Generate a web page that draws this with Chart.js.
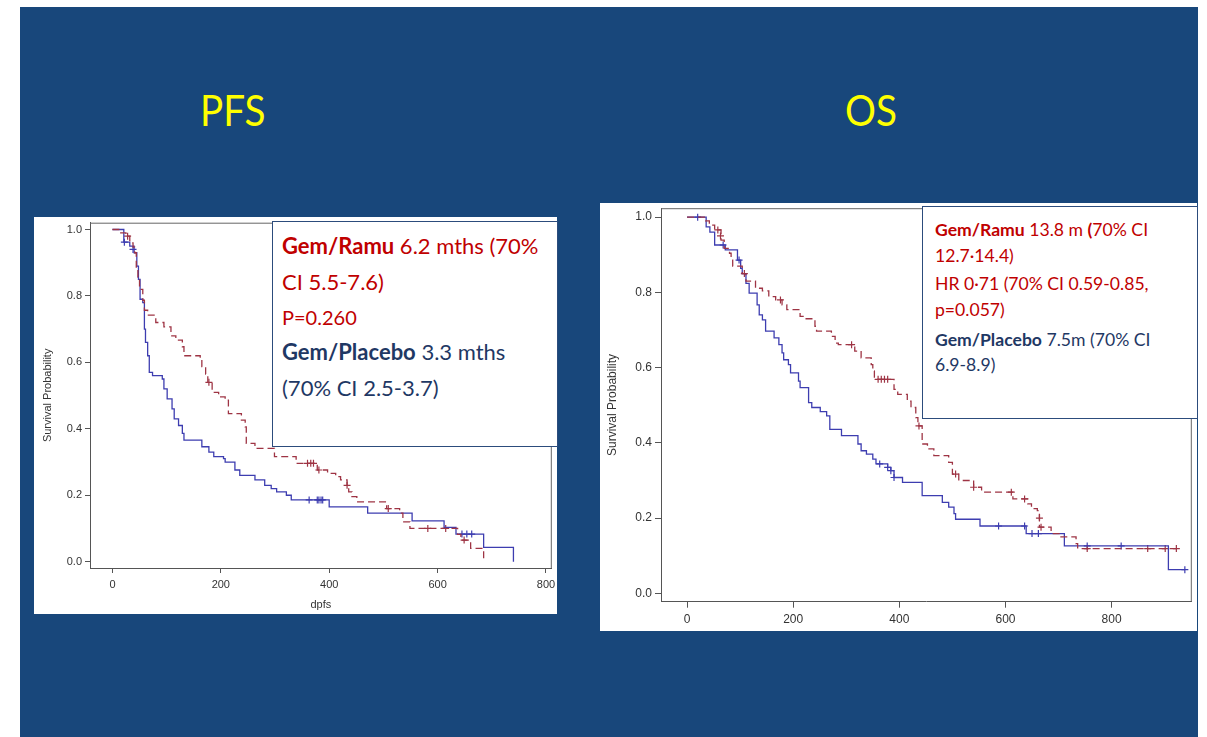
<!DOCTYPE html>
<html>
<head>
<meta charset="utf-8">
<script src="https://cdn.jsdelivr.net/npm/chart.js@4.4.1/dist/chart.umd.min.js"></script>
<style>
  html, body { margin: 0; padding: 0; background: #fff; }
  body { width: 1207px; height: 737px; position: relative; overflow: hidden; font-family: Lato, sans-serif; }
  #slide { position: absolute; left: 20px; top: 7px; width: 1178px; height: 730px; background: #18477b; }
  .title { position: absolute; color: #ffff00; font-size: 42px; line-height: 1.2; white-space: nowrap; transform: scaleX(0.92); transform-origin: left top; }
  .panel { position: absolute; background: #fff; overflow: hidden; }
  .box { position: absolute; background: #fff; border: 1.5px solid #2c4c7c; box-sizing: border-box; }
  .ln { position: absolute; white-space: nowrap; line-height: 1.2; }
  .red { color: #c00000; }
  .navy { color: #1f3864; }
</style>
</head>
<body>
<div id="slide"></div>
<div class="title" style="left:200px; top:85px;">PFS</div>
<div class="title" style="left:845px; top:85px;">OS</div>

<div class="panel" style="left:34px; top:217px; width:523px; height:397px;">
  <canvas id="pfsChart" width="523" height="397"></canvas>
</div>
<div class="panel" style="left:600px; top:203px; width:597px; height:428px;">
  <canvas id="osChart" width="597" height="428"></canvas>
</div>

<!-- text boxes over the plots -->
<div class="box" style="left:272px; top:221px; width:286px; height:226px;"></div>
<div class="ln red" style="left:282px; top:233px; font-size:22px;"><b>Gem/Ramu</b> 6.2 mths (70%</div>
<div class="ln red" style="left:282px; top:269px; font-size:22px;">CI 5.5-7.6)</div>
<div class="ln red" style="left:282px; top:305px; font-size:20px;">P=0.260</div>
<div class="ln navy" style="left:282px; top:339px; font-size:22px;"><b>Gem/Placebo</b> 3.3 mths</div>
<div class="ln navy" style="left:282px; top:375px; font-size:22px;">(70% CI 2.5-3.7)</div>

<div class="box" style="left:922px; top:206px; width:276px; height:213px;"></div>
<div class="ln red" style="left:935px; top:219px; font-size:17.6px;"><b>Gem/Ramu</b> 13.8 m <b>(</b>70% CI</div>
<div class="ln red" style="left:935px; top:245px; font-size:17.6px;">12.7·14.4)</div>
<div class="ln red" style="left:935px; top:273px; font-size:17.6px;">HR 0·71 (70% CI 0.59-0.85,</div>
<div class="ln red" style="left:935px; top:299px; font-size:17.6px;">p=0.057)</div>
<div class="ln navy" style="left:935px; top:329px; font-size:17.6px;"><b>Gem/Placebo</b> 7.5m (70% CI</div>
<div class="ln navy" style="left:935px; top:354px; font-size:17.6px;">6.9-8.9)</div>

<script>
// PFS, Gem/Ramu (days, survival after each step)
const pfsRamuT = [0,13,25,32,38,41,44,47,50,56,59,65,80,95,108,117,129,132,162,165,172,176,184,196,208,214,238,245,247,263,299,339,378,397,412,421,433,436,442,451,506,530,536,549,637,643,661,685];
const pfsRamuS = [1,0.99,0.98,0.96,0.947,0.93,0.887,0.857,0.82,0.787,0.757,0.742,0.72,0.707,0.68,0.667,0.647,0.62,0.61,0.587,0.565,0.54,0.51,0.496,0.486,0.446,0.426,0.406,0.356,0.341,0.316,0.296,0.276,0.266,0.256,0.246,0.23,0.21,0.196,0.18,0.16,0.146,0.12,0.10,0.082,0.065,0.04,0];
const pfsRamuCensT = [28,178,360,366,371,381,433,509,582,615,649];
const pfsRamuCensS = [0.98,0.54,0.296,0.296,0.296,0.276,0.23,0.16,0.10,0.10,0.065];

// PFS, Gem/Placebo
const pfsPlacT = [0,21,32,40,45,48,51,56,59,61,65,68,74,92,95,101,110,114,122,129,132,165,178,187,205,208,226,235,263,281,293,303,321,330,400,471,553,612,634,685,740];
const pfsPlacS = [1,0.962,0.95,0.93,0.89,0.85,0.79,0.78,0.70,0.66,0.62,0.57,0.56,0.55,0.52,0.49,0.46,0.43,0.41,0.386,0.366,0.346,0.33,0.316,0.31,0.30,0.276,0.26,0.246,0.23,0.22,0.21,0.20,0.186,0.165,0.146,0.123,0.103,0.083,0.043,0];
const pfsPlacCensT = [22,38,363,378,381,385,388,645,654,663];
const pfsPlacCensS = [0.962,0.94,0.186,0.186,0.186,0.186,0.186,0.083,0.083,0.083];

// OS, Gem/Ramu
const osRamuT = [0,35,42,52,64,70,80,83,86,104,111,129,142,154,167,179,188,213,222,241,244,272,279,285,316,328,347,350,353,390,397,415,422,431,435,443,453,465,493,500,512,540,555,614,642,649,660,664,686,701,733,736,925];
const osRamuS = [1,0.99,0.979,0.966,0.939,0.917,0.904,0.886,0.87,0.85,0.83,0.811,0.804,0.789,0.78,0.767,0.754,0.736,0.73,0.71,0.697,0.683,0.665,0.661,0.644,0.626,0.608,0.591,0.569,0.542,0.529,0.511,0.494,0.467,0.445,0.397,0.384,0.366,0.348,0.317,0.30,0.282,0.269,0.251,0.238,0.225,0.22,0.176,0.159,0.15,0.132,0.119,0.119];
const osRamuCensT = [58,63,108,176,310,360,366,372,378,437,506,540,611,636,664,667,754,868,901,922];
const osRamuCensS = [0.966,0.95,0.85,0.78,0.661,0.569,0.569,0.569,0.569,0.445,0.317,0.282,0.269,0.251,0.2,0.176,0.119,0.119,0.119,0.119];

// OS, Gem/Placebo
const osPlacT = [0,36,43,52,72,95,101,104,111,117,132,136,142,148,164,173,179,182,191,195,210,213,229,235,251,263,269,291,322,328,338,350,356,378,384,390,406,443,481,493,503,506,552,639,711,907,938];
const osPlacS = [1,0.974,0.96,0.926,0.913,0.886,0.864,0.85,0.824,0.798,0.767,0.74,0.727,0.697,0.679,0.661,0.639,0.621,0.608,0.586,0.564,0.547,0.507,0.494,0.483,0.472,0.436,0.419,0.397,0.379,0.370,0.357,0.344,0.335,0.326,0.308,0.295,0.26,0.242,0.229,0.212,0.197,0.179,0.159,0.126,0.063,0.063];
const osPlacCensT = [20,68,98,363,378,384,390,587,636,650,662,754,818,938];
const osPlacCensS = [1,0.926,0.886,0.344,0.335,0.326,0.308,0.179,0.179,0.159,0.159,0.126,0.126,0.063];

const xTicks = [0, 200, 400, 600, 800];
const yTicks = [0, 0.2, 0.4, 0.6, 0.8, 1.0];

const RED = '#9e3444';
const BLUE = '#3d3db0';
const AXIS = '#555';
const ARIAL = '"Liberation Sans", Arial, sans-serif';

function pts(t, s) {
  return t.map((x, i) => ({ x: x, y: s[i] }));
}

// SAS style box: top and right lines of the plot area
const framePlugin = {
  id: 'frame',
  beforeDatasetsDraw(chart) {
    const a = chart.chartArea;
    const c = chart.ctx;
    c.save();
    c.strokeStyle = '#666';
    c.lineWidth = 1;
    c.beginPath();
    c.moveTo(a.left, a.top + 0.5);
    c.lineTo(a.right, a.top + 0.5);
    c.moveTo(a.right - 0.5, a.top);
    c.lineTo(a.right - 0.5, a.bottom);
    c.stroke();
    c.restore();
  }
};

function kmChart(id, o) {
  return new Chart(document.getElementById(id), {
    type: 'scatter',
    data: {
      datasets: [
        { data: pts(o.ramuT, o.ramuS), showLine: true, stepped: 'before', borderColor: RED, borderWidth: 1.3, borderDash: [7, 4], pointRadius: 0 },
        { data: pts(o.placT, o.placS), showLine: true, stepped: 'before', borderColor: BLUE, borderWidth: 1.3, pointRadius: 0 },
        { data: pts(o.ramuCT, o.ramuCS), showLine: false, pointStyle: 'cross', pointRadius: 3.5, borderColor: RED, borderWidth: 1.2 },
        { data: pts(o.placCT, o.placCS), showLine: false, pointStyle: 'cross', pointRadius: 3.5, borderColor: BLUE, borderWidth: 1.2 }
      ]
    },
    options: {
      responsive: false,
      animation: false,
      devicePixelRatio: 1,
      layout: { padding: { top: o.padTop, right: 0, left: 0, bottom: 0 } },
      plugins: { legend: { display: false }, tooltip: { enabled: false } },
      scales: {
        x: {
          type: 'linear', min: o.xMin, max: o.xMax,
          grid: { drawOnChartArea: false, tickLength: o.tick, color: AXIS },
          border: { color: AXIS, width: 1 },
          ticks: { font: { family: ARIAL, size: o.fs }, color: '#333', padding: 5, maxRotation: 0 },
          afterBuildTicks: s => { s.ticks = xTicks.map(v => ({ value: v })); },
          afterFit: s => { s.height = o.xH; s.paddingLeft = 0; s.paddingRight = 0; },
          title: { display: !!o.xTitle, text: o.xTitle, font: { family: ARIAL, size: 11 }, color: '#333', padding: { top: 0, bottom: 2 } }
        },
        y: {
          type: 'linear', min: o.yMin, max: o.yMax,
          grid: { drawOnChartArea: false, tickLength: o.tick, color: AXIS },
          border: { color: AXIS, width: 1 },
          ticks: { font: { family: ARIAL, size: o.fs }, color: '#333', padding: 3, callback: v => v.toFixed(1) },
          afterBuildTicks: s => { s.ticks = yTicks.map(v => ({ value: v })); },
          afterFit: s => { s.width = o.yW; s.paddingTop = 0; s.paddingBottom = 0; },
          title: { display: true, text: 'Survival Probability', font: { family: ARIAL, size: o.fs }, color: '#333', padding: { top: o.yTitlePad, bottom: 0 } }
        }
      }
    },
    plugins: [framePlugin]
  });
}

kmChart('pfsChart', {
  ramuT: pfsRamuT, ramuS: pfsRamuS, ramuCT: pfsRamuCensT, ramuCS: pfsRamuCensS,
  placT: pfsPlacT, placS: pfsPlacS, placCT: pfsPlacCensT, placCS: pfsPlacCensS,
  xMin: -41.4, xMax: 810.8, yMin: -0.019, yMax: 1.0205,
  padTop: 5.7, yW: 56, xH: 46, tick: 5, fs: 11, yTitlePad: 7.4, xTitle: 'dpfs'
});

kmChart('osChart', {
  ramuT: osRamuT, ramuS: osRamuS, ramuCT: osRamuCensT, ramuCS: osRamuCensS,
  placT: osPlacT, placS: osPlacS, placCT: osPlacCensT, placCS: osPlacCensS,
  xMin: -49.1, xMax: 951.1, yMin: -0.0222, yMax: 1.0238,
  padTop: 3, yW: 61, xH: 29.3, tick: 6, fs: 12, yTitlePad: 5.8, xTitle: ''
});
</script>
</body>
</html>
